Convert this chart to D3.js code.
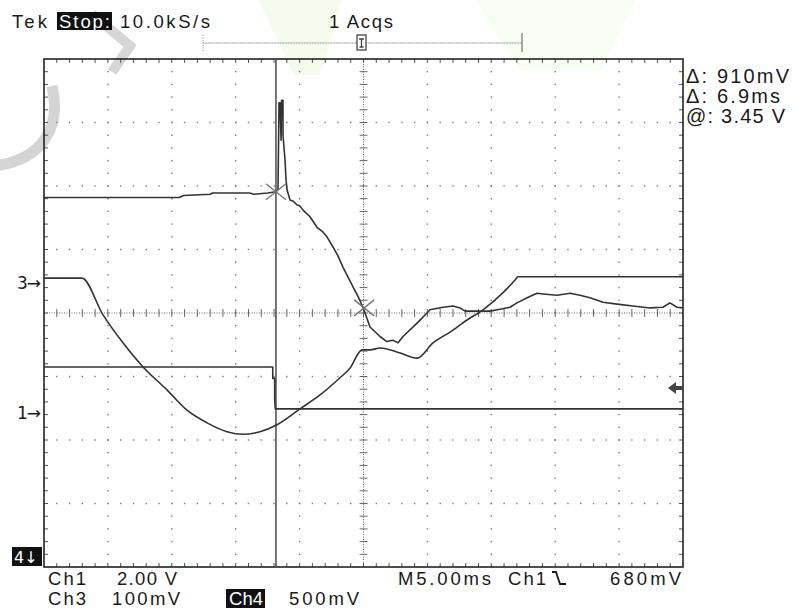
<!DOCTYPE html>
<html>
<head>
<meta charset="utf-8">
<script src="https://cdn.jsdelivr.net/npm/d3@7"></script>
<style>
body { margin: 0; background: #fff; }
svg text { font-family: "Liberation Sans", Arial, sans-serif; fill: #1a1a1a; }
svg text.sym { font-family: "DejaVu Sans", sans-serif; }
</style>
</head>
<body>
<div id="scope"></div>
<script>
// samples: [time in ms, divisions from centre line]
var ch4Trace = [[0,1.82],[10.6,1.82],[10.9,1.85],[13.0,1.87],[13.2,1.89],[16.1,1.89],[16.4,1.87],[17.5,1.89],[18.15,1.91],
  [18.31,1.94],[18.39,3.31],[18.47,3.31],[18.55,2.72],[18.59,3.35],[18.70,3.35],[18.70,2.80],[18.86,2.41],[18.94,2.09],[19.02,1.94],
  [19.25,1.78],[19.5,1.76],[19.8,1.70],[20.0,1.69],[20.27,1.62],[20.8,1.52],[21.36,1.35],[21.8,1.28],[22.14,1.20],[22.61,1.04],
  [23.0,0.90],[23.4,0.72],[23.8,0.56],[24.18,0.41],[24.6,0.25],[24.96,0.09],
  [25.51,-0.22],[26.29,-0.37],[26.82,-0.45],[27.31,-0.43],[27.70,-0.47],[28.09,-0.37],[29.19,-0.16],[29.97,0.0],[30.20,0.05],
  [31.22,0.09],[32.00,0.11],[32.55,0.08],[32.95,0.03],[33.57,0.03],[34.12,0.03],[34.90,0.03],[35.68,0.06],[36.46,0.09],
  [37.01,0.16],[37.80,0.24],[38.58,0.31],[39.05,0.30],[40.14,0.28],[41.16,0.31],[41.94,0.28],[42.72,0.24],[43.74,0.17],
  [44.84,0.14],[46.09,0.11],[47.42,0.08],[48.43,0.09],[48.98,0.16],[49.53,0.09],[50,0.08]];

var ch3Trace = [[0,0.55],[2.97,0.55],[4.62,-0.03],[6.18,-0.47],[7.75,-0.85],[9.62,-1.21],[11.19,-1.53],[12.76,-1.73],
  [14.32,-1.87],[15.57,-1.91],[16.90,-1.87],[18.23,-1.76],[20.03,-1.51],[21.60,-1.29],[23.16,-1.02],[23.94,-0.87],
  [24.88,-0.58],[25.51,-0.58],[26.29,-0.55],[27.86,-0.63],[29.19,-0.71],[30.44,-0.47],[31.77,-0.30],[33.10,-0.11],
  [34.35,0.05],[35.92,0.32],[36.86,0.52],[37.09,0.57],[50,0.57]];

var ch1Trace = [[0,-0.85],[17.9,-0.85],[17.9,-1.03],[18.05,-1.03],[18.05,-1.37],[18.1,-1.51],[50,-1.51]];

var cursorTimes = [18.15, 25.05];
var cursorLevels = [1.91, 0.08];
var triggerLevel = -1.18;
var groundLabels = ["3\u2192", "1\u2192"];
var groundLevels = [0.47, -1.57];

var headerLabels = ["Tek", "Stop:", "10.0kS/s", "1 Acqs"];
var readoutLabels = ["\u0394: 910mV", "\u0394: 6.9ms", "@: 3.45 V"];
var footerRow1 = ["Ch1", "2.00 V", "M5.00ms", "Ch1", "680mV"];
var footerRow2 = ["Ch3", "100mV", "Ch4", "500mV"];

var svg = d3.select("#scope").append("svg")
  .attr("width", 794)
  .attr("height", 610);

var xScale = d3.scaleLinear().domain([0, 50]).range([44, 683]);
var yScale = d3.scaleLinear().domain([-4, 4]).range([567, 59]);

// faint watermark left on the photo
var wm = svg.append("g").attr("class", "watermark");
wm.append("path").attr("d", "M258,0 L342,0 L320,75 L294,75 Z").attr("fill", "#f5fcee");
wm.append("path").attr("d", "M475,0 L635,0 L602,70 L520,70 Z").attr("fill", "#f7fdf1");
wm.append("path")
  .attr("d", "M52,86 C62,128 42,160 -6,166")
  .attr("fill", "none").attr("stroke", "#d4d4d4").attr("stroke-width", 11);
wm.append("path")
  .attr("d", "M92,14 L130,46 L112,72")
  .attr("fill", "none").attr("stroke", "#d6d6d6").attr("stroke-width", 10);

// graticule
var grid = svg.append("g").attr("class", "graticule");
var minorX = d3.range(1, 50);
var minorY = d3.range(-19, 20).map(i => i / 5);
var majorX = d3.range(5, 50, 5).filter(d => d !== 25);
var majorY = d3.range(-3, 4).filter(d => d !== 0);

majorX.forEach(function(t) {
  grid.selectAll(null).data(minorY).enter().append("rect")
    .attr("x", xScale(t) - 0.7).attr("y", d => yScale(d) - 0.7)
    .attr("width", 1.4).attr("height", 1.4).attr("fill", "#777");
});
majorY.forEach(function(v) {
  grid.selectAll(null).data(minorX).enter().append("rect")
    .attr("x", d => xScale(d) - 0.7).attr("y", yScale(v) - 0.7)
    .attr("width", 1.4).attr("height", 1.4).attr("fill", "#777");
});

// centre axes, fine dotted with a tick at every minor step
grid.append("line")
  .attr("x1", xScale(25)).attr("x2", xScale(25)).attr("y1", yScale(4)).attr("y2", yScale(-4))
  .attr("stroke", "#666").attr("stroke-dasharray", "1,1.5");
grid.append("line")
  .attr("x1", xScale(0)).attr("x2", xScale(50)).attr("y1", yScale(0)).attr("y2", yScale(0))
  .attr("stroke", "#666").attr("stroke-dasharray", "1,1.5");
grid.selectAll(".vtick").data(minorY).enter().append("line")
  .attr("x1", xScale(25) - 4).attr("x2", xScale(25) + 4)
  .attr("y1", d => yScale(d)).attr("y2", d => yScale(d))
  .attr("stroke", "#666");
grid.selectAll(".htick").data(minorX).enter().append("line")
  .attr("x1", d => xScale(d)).attr("x2", d => xScale(d))
  .attr("y1", yScale(0) - 4).attr("y2", yScale(0) + 4)
  .attr("stroke", "#666");

// ticks along the frame
grid.selectAll(".ttop").data(minorX).enter().append("line")
  .attr("x1", d => xScale(d)).attr("x2", d => xScale(d))
  .attr("y1", yScale(4)).attr("y2", yScale(4) + 4).attr("stroke", "#555");
grid.selectAll(".tbot").data(minorX).enter().append("line")
  .attr("x1", d => xScale(d)).attr("x2", d => xScale(d))
  .attr("y1", yScale(-4)).attr("y2", yScale(-4) - 4).attr("stroke", "#555");
grid.selectAll(".tleft").data(minorY).enter().append("line")
  .attr("x1", xScale(0)).attr("x2", xScale(0) + 4)
  .attr("y1", d => yScale(d)).attr("y2", d => yScale(d)).attr("stroke", "#555");
grid.selectAll(".tright").data(minorY).enter().append("line")
  .attr("x1", xScale(50)).attr("x2", xScale(50) - 4)
  .attr("y1", d => yScale(d)).attr("y2", d => yScale(d)).attr("stroke", "#555");

grid.append("rect")
  .attr("x", xScale(0)).attr("y", yScale(4))
  .attr("width", xScale(50) - xScale(0)).attr("height", yScale(-4) - yScale(4))
  .attr("fill", "none").attr("stroke", "#222").attr("stroke-width", 1.6);

// cursor
svg.append("line")
  .attr("x1", xScale(cursorTimes[0])).attr("x2", xScale(cursorTimes[0]))
  .attr("y1", yScale(4)).attr("y2", yScale(-4))
  .attr("stroke", "#555").attr("stroke-width", 1.6);

// waveforms
var line = d3.line().x(d => xScale(d[0])).y(d => yScale(d[1]));
var smooth = d3.line().x(d => xScale(d[0])).y(d => yScale(d[1])).curve(d3.curveMonotoneX);
[[ch1Trace, line], [ch3Trace, smooth], [ch4Trace, line]].forEach(function(p) {
  svg.append("path").datum(p[0])
    .attr("d", p[1])
    .attr("fill", "none")
    .attr("stroke", "#333")
    .attr("stroke-width", 1.6)
    .attr("stroke-linejoin", "round");
});

// cursor X marks on the waveform
cursorTimes.forEach(function(t, i) {
  var cx = xScale(t), cy = yScale(cursorLevels[i]);
  svg.append("path")
    .attr("d", `M${cx - 10},${cy - 8} L${cx + 10},${cy + 8} M${cx - 10},${cy + 8} L${cx + 10},${cy - 8}`)
    .attr("stroke", "#777").attr("stroke-width", 1.4);
});

// ground markers at left
svg.selectAll(".gnd").data(groundLabels).enter().append("text")
  .attr("class", "sym")
  .attr("x", 17).attr("y", (d, i) => yScale(groundLevels[i]) + 6)
  .attr("font-size", 17)
  .attr("textLength", 24)
  .text(d => d);

// trigger level arrow at right
var ty = yScale(triggerLevel);
svg.append("path")
  .attr("d", `M668,${ty} L676,${ty - 6} L676,${ty - 2} L682,${ty - 2} L682,${ty + 2} L676,${ty + 2} L676,${ty + 6} Z`)
  .attr("fill", "#444");

// Ch4 off-screen marker
svg.append("rect").attr("x", 12).attr("y", 547).attr("width", 30).attr("height", 19).attr("fill", "#111");
svg.append("text").attr("class", "sym").attr("x", 14).attr("y", 563).attr("font-size", 16).style("fill", "#fff").text("4\u2193");

// header
var header = svg.append("g").attr("font-size", 18.5);
header.append("text").attr("x", 12).attr("y", 28).attr("textLength", 35).text(headerLabels[0]);
header.append("rect").attr("x", 57).attr("y", 12).attr("width", 55).attr("height", 18).attr("fill", "#111");
header.append("text").attr("x", 59).attr("y", 28).attr("textLength", 51).style("fill", "#fff").text(headerLabels[1]);
header.append("text").attr("x", 120).attr("y", 28).attr("textLength", 90).text(headerLabels[2]);
header.append("text").attr("x", 329).attr("y", 28).attr("textLength", 64).text(headerLabels[3]);

// record view bar with trigger position
svg.append("line").attr("x1", 203).attr("x2", 522).attr("y1", 43).attr("y2", 43)
  .attr("stroke", "#888").attr("stroke-width", 1.2).attr("stroke-dasharray", "1,0.6");
svg.append("line").attr("x1", 203).attr("x2", 203).attr("y1", 35).attr("y2", 51)
  .attr("stroke", "#888").attr("stroke-dasharray", "1,1.5");
svg.append("line").attr("x1", 522).attr("x2", 522).attr("y1", 33).attr("y2", 52).attr("stroke", "#555");
svg.append("rect").attr("x", 357).attr("y", 35).attr("width", 9).attr("height", 15)
  .attr("fill", "#fff").attr("stroke", "#444").attr("stroke-width", 1.3);
svg.append("path").attr("d", "M359,39 L364,39 M361.5,39 L361.5,47 M359.5,47 L363.5,47").attr("stroke", "#444").attr("stroke-width", 1.3);

// readouts at right
svg.selectAll(".readout").data(readoutLabels).enter().append("text")
  .attr("x", 686).attr("y", (d, i) => 83 + i * 20)
  .attr("font-size", 20)
  .attr("textLength", (d, i) => [103, 94, 99][i])
  .text(d => d);

// footer
var row1X = [48, 117, 398, 508, 610];
var row1W = [38, 60, 93, 38, 71];
svg.selectAll(".f1").data(footerRow1).enter().append("text")
  .attr("x", (d, i) => row1X[i]).attr("y", 585)
  .attr("font-size", 18.5)
  .attr("textLength", (d, i) => row1W[i])
  .text(d => d);
// falling slope symbol
svg.append("path").attr("d", "M552,572 L556,572 L560,584 L566,584")
  .attr("fill", "none").attr("stroke", "#1a1a1a").attr("stroke-width", 1.8);

var row2X = [48, 112, 229, 289];
var row2W = [38, 68, 34, 70];
svg.append("rect").attr("x", 226).attr("y", 589).attr("width", 39).attr("height", 19).attr("fill", "#111");
svg.selectAll(".f2").data(footerRow2).enter().append("text")
  .attr("x", (d, i) => row2X[i]).attr("y", 605)
  .attr("font-size", 18.5)
  .attr("textLength", (d, i) => row2W[i])
  .style("fill", (d, i) => i === 2 ? "#fff" : "#1a1a1a")
  .text(d => d);
</script>
</body>
</html>
